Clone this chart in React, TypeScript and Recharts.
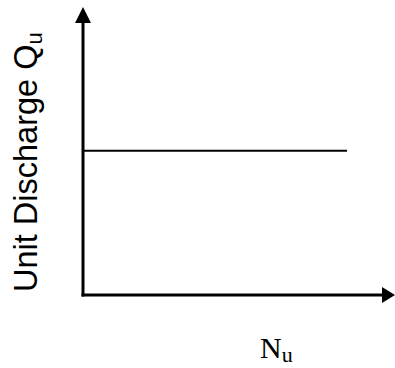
import { LineChart, Line, XAxis, YAxis } from 'recharts'

// Unit speed (x) vs unit discharge (y): a flat line, no tick values shown
const nuValues = [0, 88.3]
const quValues = [53, 53]

const data = nuValues.map((nu, i) => ({ nu, qu: quValues[i] }))

const YLabel = () => (
  <text
    transform="translate(37, 292) rotate(-90)"
    fontFamily="'Liberation Sans', Arial, sans-serif"
    fontSize={32.5}
    fill="#000"
  >
    Unit Discharge Q
    <tspan fontSize={22} dy={5}>u</tspan>
  </text>
)

const XLabel = () => (
  <text
    x={260}
    y={357.5}
    fontFamily="'Liberation Serif', 'Times New Roman', serif"
    fontSize={30}
    fill="#000"
  >
    N
    <tspan fontSize={22} dy={4}>u</tspan>
  </text>
)

export default function App() {
  return (
    <div style={{ position: 'absolute', top: 0, left: 0, width: 395, height: 368, background: '#fff' }}>
      <LineChart
        width={395}
        height={368}
        data={data}
        margin={{ top: 23, right: 13, left: 0, bottom: 0 }}
      >
        <defs>
          <marker
            id="arrowX"
            markerUnits="userSpaceOnUse"
            markerWidth={13}
            markerHeight={16}
            refX={0}
            refY={8}
            orient="auto"
          >
            <path d="M0,0 L13,8 L0,16 z" fill="#000" />
          </marker>
          <marker
            id="arrowY"
            markerUnits="userSpaceOnUse"
            markerWidth={16}
            markerHeight={16}
            refX={0}
            refY={8}
            orient="auto-start-reverse"
          >
            <path d="M0,0 L16,8 L0,16 z" fill="#000" />
          </marker>
        </defs>
        <XAxis
          dataKey="nu"
          type="number"
          domain={[0, 100]}
          height={73}
          tick={false}
          tickLine={false}
          axisLine={{ stroke: '#000', strokeWidth: 3, strokeLinecap: 'square', markerEnd: 'url(#arrowX)' }}
          label={{ content: () => <XLabel /> }}
        />
        <YAxis
          type="number"
          domain={[0, 100]}
          width={83}
          tick={false}
          tickLine={false}
          axisLine={{ stroke: '#000', strokeWidth: 3, strokeLinecap: 'square', markerStart: 'url(#arrowY)' }}
          label={{ content: () => <YLabel /> }}
        />
        <Line
          dataKey="qu"
          stroke="#000"
          strokeWidth={2}
          dot={false}
          activeDot={false}
          isAnimationActive={false}
        />
      </LineChart>
    </div>
  )
}
